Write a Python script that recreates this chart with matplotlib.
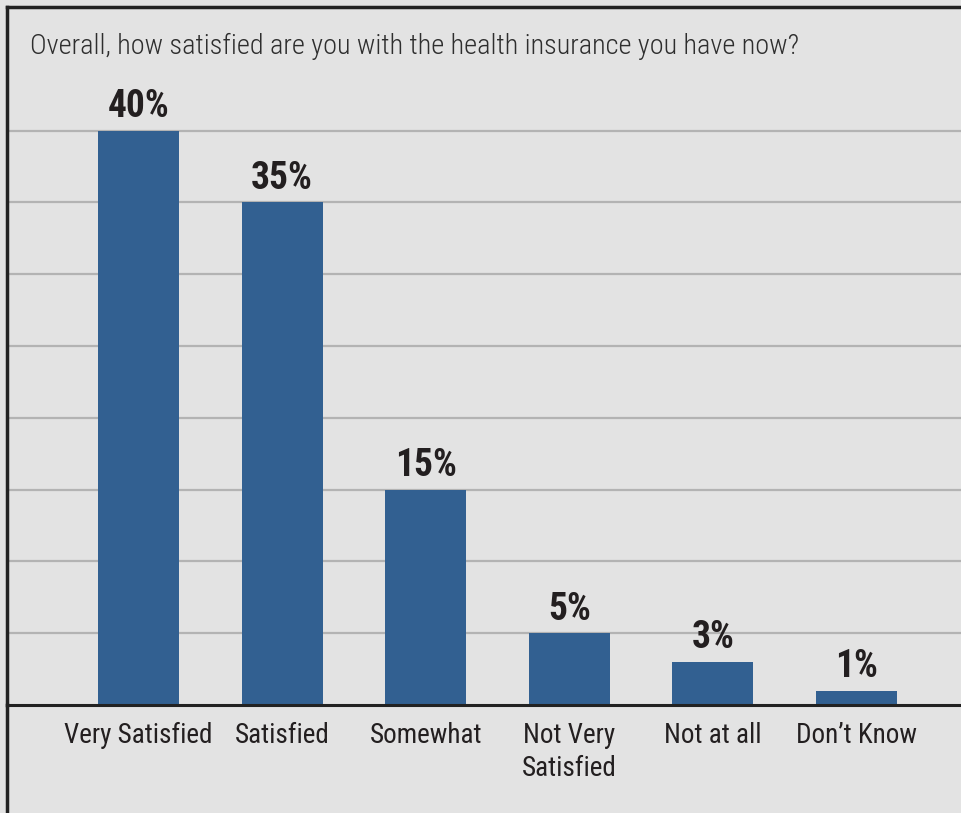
import matplotlib
matplotlib.use("Agg")
import matplotlib.pyplot as plt

# data
categories = ["Very Satisfied", "Satisfied", "Somewhat", "Not Very\nSatisfied",
              "Not at all", "Don\u2019t Know"]
values = [40, 35, 15, 5, 3, 1]
title = "Overall, how satisfied are you with the health insurance you have now?"

plt.rcParams["font.family"] = ["Roboto Condensed", "DejaVu Sans"]
plt.rcParams["font.stretch"] = "condensed"

bg = "#e3e3e3"
bar_color = "#326091"
grid_color = "#b3b3b3"
text_color = "#231f20"

W, H = 962, 813
fig = plt.figure(figsize=(W / 100, H / 100), dpi=100)
fig.patch.set_facecolor(bg)

ax = fig.add_axes([7 / W, (H - 705) / H, 1 - 7 / W, (705 - 7) / H])
ax.set_facecolor(bg)

x = list(range(len(categories)))
ax.bar(x, values, width=0.565, color=bar_color, zorder=3)

for xi, v in zip(x, values):
    ax.annotate(f"{v}%", (xi, v), xytext=(0, 4), textcoords="offset points",
                ha="center", va="bottom", fontsize=27, fontweight="bold",
                color=text_color, zorder=4)

ax.set_xlim(-0.916, 5.735)
ax.set_ylim(0, 48.6)
ax.set_yticks(range(5, 45, 5))
ax.yaxis.grid(True, color=grid_color, linewidth=1.6, zorder=1)
ax.axhline(0, color="#222222", linewidth=2.2, zorder=5, clip_on=False)

ax.set_xticks(x)
ax.set_xticklabels(categories, fontsize=19.5, color=text_color, linespacing=1.3)
ax.tick_params(axis="x", length=0, pad=12)
ax.tick_params(axis="y", length=0, labelleft=False)

for side in ["right", "bottom"]:
    ax.spines[side].set_visible(False)
ax.spines["left"].set_color("#222222")
ax.spines["left"].set_linewidth(2.5)
ax.spines["top"].set_color("#222222")
ax.spines["top"].set_linewidth(2.5)

# left border continues below the axes
fig.add_artist(plt.Line2D([7 / W, 7 / W], [0, (H - 705) / H], color="#222222",
                          linewidth=2.5, transform=fig.transFigure))

fig.text(30 / W, 1 - 46 / H, title, fontsize=20.3, fontweight="light",
         color="#2e2e2e", ha="left", va="center")

fig.savefig("out.png", dpi=100, facecolor=bg)
